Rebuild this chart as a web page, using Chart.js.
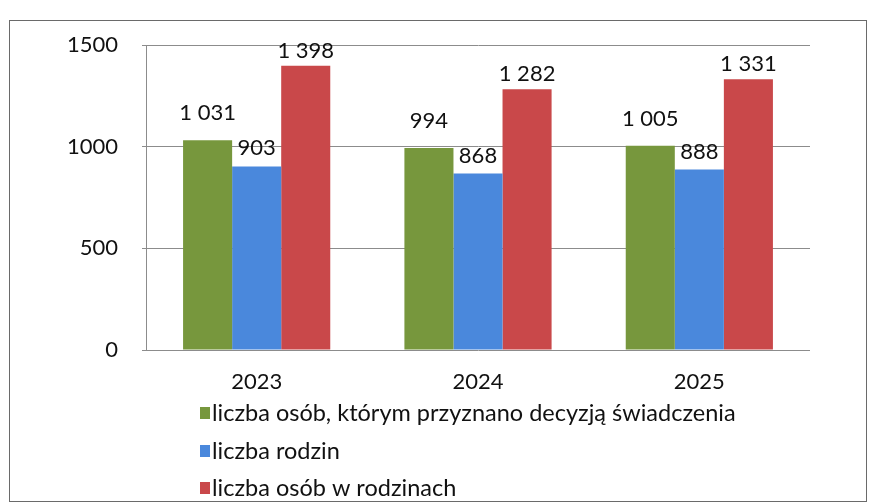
<!DOCTYPE html>
<html>
<head>
<meta charset="utf-8">
<script src="https://cdn.jsdelivr.net/npm/chart.js@4/dist/chart.umd.min.js"></script>
<style>
html,body{margin:0;padding:0;background:#fff;}
#wrap{position:relative;width:880px;height:504px;}
#frame{position:absolute;left:9px;top:20px;width:858px;height:482px;border:1.5px solid #6a6a6a;box-sizing:border-box;pointer-events:none;}
canvas{position:absolute;left:0;top:0;}
</style>
</head>
<body>
<div id="wrap">
<canvas id="c" width="880" height="504"></canvas>
<div id="frame"></div>
</div>
<script>
const categories = ["2023", "2024", "2025"];
const seriesNames = [
  "liczba osób, którym przyznano decyzją świadczenia",
  "liczba rodzin",
  "liczba osób w rodzinach"
];
const osobyDecyzja = [1031, 994, 1005];
const rodziny = [903, 868, 888];
const osobyWRodzinach = [1398, 1282, 1331];
const yTicks = [0, 500, 1000, 1500];

const colors = ["#77973d", "#4a88dc", "#c9484a"];
const labelOffsets = [27, 18, 15];
const FONT = "Lato, 'Open Sans', sans-serif";

function fmt(v){
  return String(v).replace(/\B(?=(\d{3})+(?!\d))/g, " ");
}

const labelPlugin = {
  id: "valueLabels",
  afterDatasetsDraw(chart){
    const ctx = chart.ctx;
    ctx.save();
    ctx.font = "22px " + FONT;
    ctx.fillStyle = "#111";
    ctx.textAlign = "center";
    ctx.textBaseline = "middle";
    chart.data.datasets.forEach((ds, i) => {
      const meta = chart.getDatasetMeta(i);
      meta.data.forEach((bar, j) => {
        ctx.fillText(fmt(ds.data[j]), bar.x, bar.y - labelOffsets[i]);
      });
    });
    ctx.restore();
  }
};

const legendPlugin = {
  id: "customLegend",
  afterDraw(chart){
    const ctx = chart.ctx;
    ctx.save();
    ctx.font = "23.5px " + FONT;
    ctx.textAlign = "left";
    ctx.textBaseline = "middle";
    const rows = [413, 451, 488];
    seriesNames.forEach((name, i) => {
      ctx.fillStyle = colors[i];
      ctx.fillRect(200, rows[i] - 6, 10, 12);
      ctx.fillStyle = "#111";
      ctx.fillText(name, 212, rows[i]);
    });
    ctx.restore();
  }
};

new Chart(document.getElementById("c"), {
  type: "bar",
  data: {
    labels: categories,
    datasets: [
      {label: seriesNames[0], data: osobyDecyzja, backgroundColor: colors[0]},
      {label: seriesNames[1], data: rodziny, backgroundColor: colors[1]},
      {label: seriesNames[2], data: osobyWRodzinach, backgroundColor: colors[2]}
    ]
  },
  options: {
    responsive: false,
    animation: false,
    devicePixelRatio: 1,
    layout: {padding: {left: 0, right: 70, top: 45, bottom: 0}},
    plugins: {legend: {display: false}, tooltip: {enabled: false}},
    datasets: {bar: {categoryPercentage: 0.665, barPercentage: 1.0}},
    scales: {
      x: {
        grid: {display: false, drawTicks: false},
        border: {display: false},
        ticks: {font: {family: FONT, size: 22}, color: "#111", padding: 19},
        afterFit(s){ s.height = 154; }
      },
      y: {
        min: 0, max: 1500,
        afterBuildTicks(s){ s.ticks = yTicks.map(v => ({value: v})); },
        grid: {color: "#8c8c8c", lineWidth: 1, tickLength: 4},
        border: {display: true, color: "#8c8c8c", width: 1},
        ticks: {font: {family: FONT, size: 22}, color: "#111", padding: 24, callback: v => String(v)},
        afterFit(s){ s.width = 146; }
      }
    }
  },
  plugins: [labelPlugin, legendPlugin]
});
</script>
</body>
</html>
